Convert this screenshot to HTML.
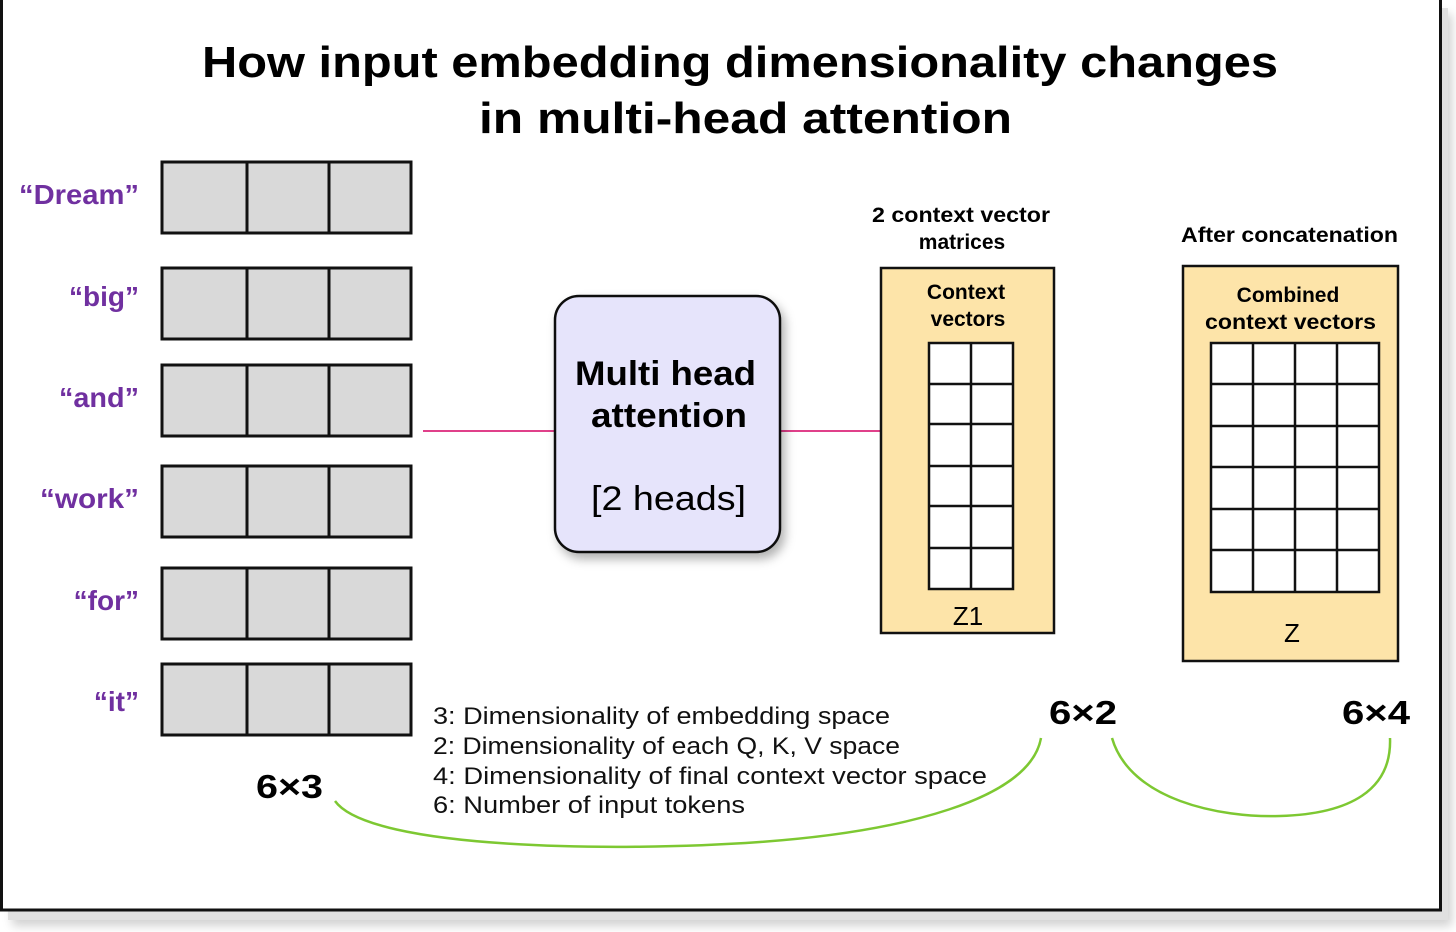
<!DOCTYPE html>
<html><head><meta charset="utf-8"><style>
body{margin:0;background:#fff;}
svg{display:block;font-family:"Liberation Sans",sans-serif;}
</style></head><body>
<svg width="1456" height="932" viewBox="0 0 1456 932">
<defs>
<filter id="sh" x="-20%" y="-20%" width="140%" height="140%"><feDropShadow dx="4" dy="6" stdDeviation="5" flood-color="#000" flood-opacity="0.3"/></filter>
</defs>
<rect x="8" y="8" width="1440" height="912" fill="#ccc" opacity="0.6" filter="url(#sh)"/>
<rect x="1.5" y="-2" width="1439" height="912" fill="#fff" stroke="#111" stroke-width="3"/>
<text x="202" y="77" textLength="1076" lengthAdjust="spacingAndGlyphs" font-size="44" font-weight="bold" fill="#000">How input embedding dimensionality changes</text>
<text x="479" y="133" textLength="533" lengthAdjust="spacingAndGlyphs" font-size="44" font-weight="bold" fill="#000">in multi-head attention</text>
<g font-size="28" font-weight="bold" fill="#7030a0" text-anchor="end">
<text x="139" y="204" textLength="120" lengthAdjust="spacingAndGlyphs">“Dream”</text>
<text x="139" y="306">“big”</text>
<text x="139" y="407" textLength="80" lengthAdjust="spacingAndGlyphs">“and”</text>
<text x="139" y="508" textLength="99" lengthAdjust="spacingAndGlyphs">“work”</text>
<text x="139" y="610">“for”</text>
<text x="139" y="711">“it”</text>
</g>
<g fill="#d9d9d9" stroke="#111" stroke-width="3">
<g id="row"><rect x="162" y="162" width="249" height="71"/><line x1="247" y1="162" x2="247" y2="233"/><line x1="329" y1="162" x2="329" y2="233"/></g>
<use href="#row" y="106"/>
<use href="#row" y="203"/>
<use href="#row" y="304"/>
<use href="#row" y="406"/>
<use href="#row" y="502"/>
</g>
<line x1="423" y1="431" x2="556" y2="431" stroke="#e0408a" stroke-width="2"/>
<line x1="780" y1="431" x2="881" y2="431" stroke="#e0408a" stroke-width="2"/>
<rect x="555" y="296" width="225" height="256" rx="24" fill="#e6e4fb" stroke="#111" stroke-width="2.5" filter="url(#sh)"/>
<text x="575" y="385" textLength="181" lengthAdjust="spacingAndGlyphs" font-size="34" font-weight="bold">Multi head</text>
<text x="591" y="427" textLength="156" lengthAdjust="spacingAndGlyphs" font-size="34" font-weight="bold">attention</text>
<text x="591" y="510" textLength="155" lengthAdjust="spacingAndGlyphs" font-size="34">[2 heads]</text>
<text x="872" y="222" textLength="178" lengthAdjust="spacingAndGlyphs" font-size="21" font-weight="bold">2 context vector</text>
<text x="962" y="249" text-anchor="middle" font-size="21" font-weight="bold">matrices</text>
<text x="1181" y="242" textLength="217" lengthAdjust="spacingAndGlyphs" font-size="21" font-weight="bold">After concatenation</text>
<rect x="881" y="268" width="173" height="365" fill="#fde4a9" stroke="#111" stroke-width="2.5"/>
<text x="966" y="299" text-anchor="middle" font-size="21" font-weight="bold">Context</text>
<text x="968" y="326" text-anchor="middle" font-size="21" font-weight="bold">vectors</text>
<rect x="929" y="343" width="84" height="246" fill="#fff" stroke="#111" stroke-width="2.5"/>
<g stroke="#111" stroke-width="2.5">
<line x1="971" y1="343" x2="971" y2="589"/>
<line x1="929" y1="384" x2="1013" y2="384"/><line x1="929" y1="424" x2="1013" y2="424"/><line x1="929" y1="466" x2="1013" y2="466"/><line x1="929" y1="506" x2="1013" y2="506"/><line x1="929" y1="548" x2="1013" y2="548"/>
</g>
<text x="968" y="625" text-anchor="middle" font-size="26">Z1</text>
<rect x="1183" y="266" width="215" height="395" fill="#fde4a9" stroke="#111" stroke-width="2.5"/>
<text x="1288" y="302" text-anchor="middle" font-size="21" font-weight="bold">Combined</text>
<text x="1205" y="329" textLength="171" lengthAdjust="spacingAndGlyphs" font-size="21" font-weight="bold">context vectors</text>
<rect x="1211" y="343" width="168" height="249" fill="#fff" stroke="#111" stroke-width="2.5"/>
<g stroke="#111" stroke-width="2.5">
<line x1="1253" y1="343" x2="1253" y2="592"/><line x1="1295" y1="343" x2="1295" y2="592"/><line x1="1337" y1="343" x2="1337" y2="592"/>
<line x1="1211" y1="384" x2="1379" y2="384"/><line x1="1211" y1="426" x2="1379" y2="426"/><line x1="1211" y1="467" x2="1379" y2="467"/><line x1="1211" y1="509" x2="1379" y2="509"/><line x1="1211" y1="550" x2="1379" y2="550"/>
</g>
<text x="1292" y="642" text-anchor="middle" font-size="26">Z</text>
<g font-size="33" font-weight="bold">
<text x="256" y="798" textLength="67" lengthAdjust="spacingAndGlyphs">6×3</text>
<text x="1049" y="724" textLength="68" lengthAdjust="spacingAndGlyphs">6×2</text>
<text x="1342" y="724" textLength="68" lengthAdjust="spacingAndGlyphs">6×4</text>
</g>
<g font-size="24" fill="#111" lengthAdjust="spacingAndGlyphs">
<text x="433" y="724" textLength="457" lengthAdjust="spacingAndGlyphs">3: Dimensionality of embedding space</text>
<text x="433" y="754" textLength="467" lengthAdjust="spacingAndGlyphs">2: Dimensionality of each Q, K, V space</text>
<text x="433" y="784" textLength="554" lengthAdjust="spacingAndGlyphs">4: Dimensionality of final context vector space</text>
<text x="433" y="813" textLength="312" lengthAdjust="spacingAndGlyphs">6: Number of input tokens</text>
</g>
<g fill="none" stroke="#7dc832" stroke-width="2.5">
<path d="M335,801 C370,850 620,852 760,842 C900,832 1030,800 1041,738"/>
<path d="M1112,738 C1130,800 1220,818 1280,816 C1350,814 1392,790 1390,738"/>
</g>
</svg>
</body></html>
